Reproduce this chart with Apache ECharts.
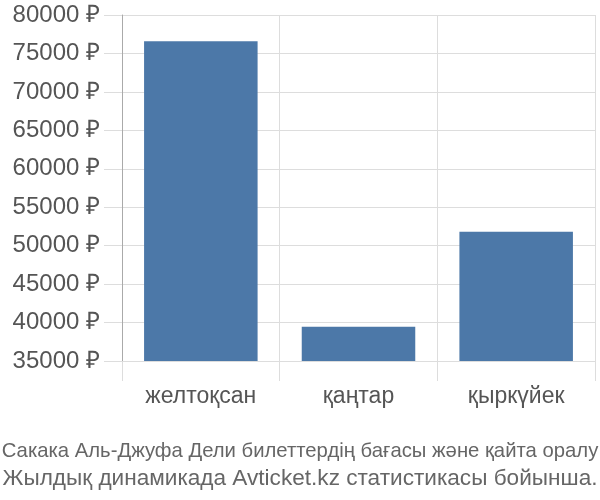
<!DOCTYPE html>
<html><head><meta charset="utf-8">
<script src="https://cdn.jsdelivr.net/npm/echarts@6/dist/echarts.min.js"></script>
<style>html,body{margin:0;padding:0;background:#fff}#c{width:600px;height:500px}</style>
</head><body><div id="c"></div>
<script>
const categories = ['желтоқсан', 'қаңтар', 'қыркүйек'];
const prices = [76600, 39450, 51800];
const yMin = 35000, yMax = 80000, yStep = 5000;
const titleLines = ['Сакака Аль-Джуфа Дели билеттердің бағасы және қайта оралу', 'Жылдық динамикада Avticket.kz статистикасы бойынша.'];

const chart = echarts.init(document.getElementById('c'), null, {renderer: 'canvas'});
chart.setOption({
  animation: false,
  title: {
    text: '{a|' + titleLines[0] + '}\n{b|' + titleLines[1] + '}',
    left: 'center', top: 433,
    textStyle: {
      fontWeight: 'normal',
      rich: {
        a: {fontFamily: 'Liberation Sans', fontWeight: 'normal', fontSize: 20.3, color: '#666', lineHeight: 27},
        b: {fontFamily: 'Liberation Sans', fontWeight: 'normal', fontSize: 22.6, color: '#666', lineHeight: 27}
      }
    }
  },
  grid: {left: 122, right: 5, top: 15, bottom: 139},
  xAxis: {
    type: 'category', data: categories,
    axisLine: {show: false},
    axisTick: {show: true, length: 20, alignWithLabel: false, lineStyle: {color: '#ddd'}},
    splitLine: {show: true, lineStyle: {color: '#ddd'}},
    axisLabel: {margin: 24, fontFamily: 'Liberation Sans', fontSize: 23, color: '#555'}
  },
  yAxis: {
    type: 'value', min: yMin, max: yMax, interval: yStep,
    axisLine: {show: true, lineStyle: {color: '#aaa'}},
    axisTick: {show: true, length: 18, lineStyle: {color: '#ddd'}},
    splitLine: {show: true, lineStyle: {color: '#ddd'}},
    axisLabel: {margin: 22, fontFamily: 'Liberation Sans', fontSize: 24, color: '#555', formatter: v => v + ' ₽'}
  },
  series: [{
    type: 'bar', data: prices, barWidth: '72%',
    itemStyle: {color: '#4c78a8'}
  }]
});
</script></body></html>
